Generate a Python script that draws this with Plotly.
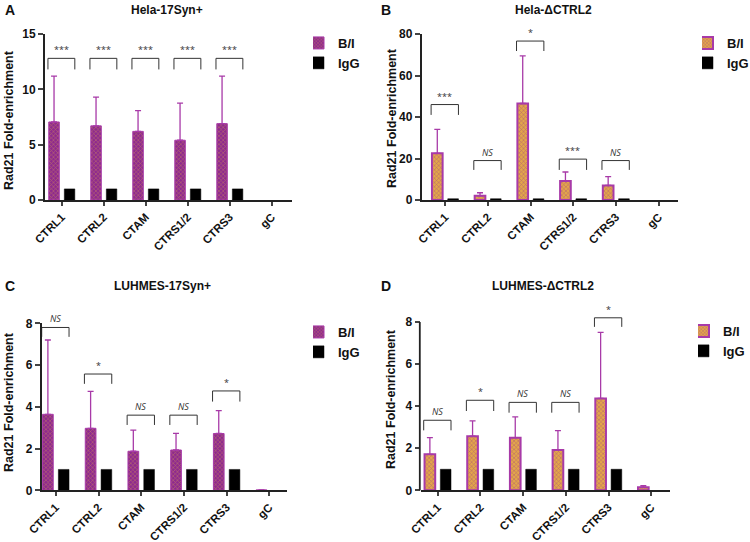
import plotly.graph_objects as go

# ---------------- data ----------------
categories = ["CTRL1", "CTRL2", "CTAM", "CTRS1/2", "CTRS3", "gC"]

A_title = "Hela-17Syn+"
A_bi = [7.05, 6.7, 6.2, 5.4, 6.9, None]
A_bi_sd = [4.15, 2.6, 1.87, 3.35, 4.3, None]
A_igg = [1, 1, 1, 1, 1, None]
A_sig = ["***", "***", "***", "***", "***", None]
A_sig_top = [12.8, 12.8, 12.8, 12.8, 12.8, None]
A_sig_leg = [11.8, 11.8, 11.8, 11.8, 11.8, None]
A_yticks = [0, 5, 10, 15]

B_title = "Hela-ΔCTRL2"
B_bi = [22.5, 2.0, 46.5, 9.2, 7.0, None]
B_bi_sd = [11.5, 1.5, 23.0, 4.3, 4.3, None]
B_igg = [0.6, 0.6, 0.6, 0.6, 0.6, None]
B_sig = ["***", "NS", "*", "***", "NS", None]
B_sig_top = [46, 19, 76.6, 19.7, 19, None]
B_sig_leg = [41, 14.5, 71.8, 14.5, 14.5, None]
B_yticks = [0, 20, 40, 60, 80]

C_title = "LUHMES-17Syn+"
C_bi = [3.64, 2.97, 1.87, 1.93, 2.72, 0.02]
C_bi_sd = [3.56, 1.77, 1.01, 0.8, 1.1, 0]
C_igg = [1, 1, 1, 1, 1, None]
C_sig = ["NS", "*", "NS", "NS", "*", None]
C_sig_top = [7.8, 5.57, 3.6, 3.6, 4.76, None]
C_sig_leg = [7.35, 5.1, 3.13, 3.13, 4.25, None]
C_yticks = [0, 2, 4, 6, 8]

D_title = "LUHMES-ΔCTRL2"
D_bi = [1.71, 2.57, 2.5, 1.92, 4.37, 0.15]
D_bi_sd = [0.79, 0.73, 0.99, 0.92, 3.14, 0.07]
D_igg = [1, 1, 1, 1, 1, None]
D_sig = ["NS", "*", "NS", "NS", "*", None]
D_sig_top = [3.33, 4.28, 4.18, 4.18, 8.2, None]
D_sig_leg = [2.85, 3.77, 3.69, 3.69, 7.77, None]
D_yticks = [0, 2, 4, 6, 8]

FONT = "Liberation Sans, Arial, sans-serif"
PURPLE = "#8E2A8E"
MAGENTA = "#A83AA8"
ORANGE = "#E3A64A"

panels = [
    dict(letter="A", title=A_title, bi=A_bi, sd=A_bi_sd, igg=A_igg, sig=A_sig, top=A_sig_top, leg=A_sig_leg,
         yticks=A_yticks, yrange=[0, 15], xrange=[-0.40, 5.48],
         xdom=[45 / 750, 292 / 750], ydom=[1 - 200 / 542, 1 - 34 / 542],
         bg=PURPLE, fg=ORANGE, lw=1, legpos=(313, 28)),
    dict(letter="B", title=B_title, bi=B_bi, sd=B_bi_sd, igg=B_igg, sig=B_sig, top=B_sig_top, leg=B_sig_leg,
         yticks=B_yticks, yrange=[0, 80], xrange=[-0.55, 5.45],
         xdom=[421.7 / 750, 678 / 750], ydom=[1 - 200 / 542, 1 - 34 / 542],
         bg=ORANGE, fg=PURPLE, lw=2, legpos=(702, 28)),
    dict(letter="C", title=C_title, bi=C_bi, sd=C_bi_sd, igg=C_igg, sig=C_sig, top=C_sig_top, leg=C_sig_leg,
         yticks=C_yticks, yrange=[0, 8], xrange=[-0.33, 5.42],
         xdom=[41.7 / 750, 287.3 / 750], ydom=[1 - 490.3 / 542, 1 - 323.3 / 542],
         bg=PURPLE, fg=ORANGE, lw=1, legpos=(313, 317)),
    dict(letter="D", title=D_title, bi=D_bi, sd=D_bi_sd, igg=D_igg, sig=D_sig, top=D_sig_top, leg=D_sig_leg,
         yticks=D_yticks, yrange=[0, 8.6], xrange=[-0.40, 5.44],
         xdom=[420.7 / 750, 670 / 750], ydom=[1 - 490.3 / 542, 1 - 309.4 / 542],
         bg=ORANGE, fg=PURPLE, lw=2, legpos=(698, 316)),
]

fig = go.Figure()
annotations = []
shapes = []
layout = {}
title_pos = {"A": (167, 10), "B": (553, 10), "C": (162, 286), "D": (543, 286)}
letter_pos = {"A": (3, 10), "B": (379, 10), "C": (3, 286), "D": (379, 286)}
ytitle_pos = {"A": (9, 120), "B": (392, 118), "C": (9, 402), "D": (391, 399)}

xs = list(range(len(categories)))
for k, p in enumerate(panels):
    n = "" if k == 0 else str(k + 1)
    xa, ya = "x" + n, "y" + n
    legname = "legend" + n
    fig.add_trace(go.Bar(
        x=xs, y=p["bi"], name="B/I", xaxis=xa, yaxis=ya, legend=legname,
        offset=-0.31, width=0.25,
        marker=dict(color=p["bg"], line=dict(color=MAGENTA, width=p["lw"]),
                    pattern=dict(shape="x", fgcolor=p["fg"], bgcolor=p["bg"], size=3, solidity=0.35)),
        error_y=dict(type="data", array=p["sd"], arrayminus=[0] * 6, symmetric=False,
                     color=MAGENTA, thickness=1.3, width=3),
        hoverinfo="skip",
    ))
    fig.add_trace(go.Bar(
        x=xs, y=p["igg"], name="IgG", xaxis=xa, yaxis=ya, legend=legname,
        offset=0.06, width=0.25,
        marker=dict(color="#000000", line=dict(color="#000000", width=0.5)),
        hoverinfo="skip",
    ))
    # significance brackets
    bx, by = [], []
    for i, s in enumerate(p["sig"]):
        if s is None:
            continue
        bx += [i - 0.33, i - 0.33, i + 0.31, i + 0.31, None]
        by += [p["leg"][i], p["top"][i], p["top"][i], p["leg"][i], None]
        annotations.append(dict(
            x=i - 0.01, y=p["top"][i], xref=xa, yref=ya, text=s, showarrow=False,
            xanchor="center", yanchor="bottom", yshift=0,
            font=dict(family="Open Sans, sans-serif", size=9, color="#333333",
                      style="italic" if s == "NS" else "normal")))
    fig.add_trace(go.Scatter(x=bx, y=by, xaxis=xa, yaxis=ya, mode="lines",
                             line=dict(color="#333333", width=1), showlegend=False,
                             hoverinfo="skip"))
    layout["xaxis" + n] = dict(
        domain=p["xdom"], anchor=ya, range=p["xrange"], tickmode="array", tickvals=xs,
        ticktext=categories, tickangle=-45, ticks="outside", ticklen=4, tickwidth=1.5,
        showline=True, linewidth=1.8, linecolor="#222222", showgrid=False, zeroline=False,
        tickfont=dict(family=FONT, size=11.5, color="#111111", weight="bold"), fixedrange=True)
    ymax_line = p["yticks"][-1]
    layout["yaxis" + n] = dict(
        domain=p["ydom"], anchor=xa, range=p["yrange"], tickmode="array", tickvals=p["yticks"],
        ticks="outside", ticklen=5, tickwidth=1.5, showline=(k != 3), linewidth=1.8,
        linecolor="#222222", showgrid=False, zeroline=False,
        tickfont=dict(family=FONT, size=12, color="#111111", weight="bold"), fixedrange=True)
    if k == 3:
        y0 = p["ydom"][0]
        y1 = y0 + (p["ydom"][1] - y0) * ymax_line / p["yrange"][1]
        shapes.append(dict(type="line", xref="paper", yref="paper", x0=p["xdom"][0] - 0.9 / 750,
                           x1=p["xdom"][0] - 0.9 / 750, y0=y0, y1=y1,
                           line=dict(color="#222222", width=1.8)))
    lx, ly = p["legpos"]
    layout[legname] = dict(x=lx / 750, y=1 - ly / 542, xanchor="left", yanchor="top",
                           bgcolor="rgba(0,0,0,0)", tracegroupgap=0, indentation=-15,
                           font=dict(family=FONT, size=13, color="#111111", weight="bold"))
    tx, ty = title_pos[p["letter"]]
    annotations.append(dict(x=tx / 750, y=1 - ty / 542, xref="paper", yref="paper",
                            xanchor="center", yanchor="middle",
                            text="<b>" + p["title"] + "</b>", showarrow=False,
                            font=dict(family=FONT, size=12, color="#111111")))
    lx2, ly2 = letter_pos[p["letter"]]
    annotations.append(dict(x=lx2 / 750, y=1 - ly2 / 542, xref="paper", yref="paper",
                            xanchor="left", yanchor="middle",
                            text="<b>" + p["letter"] + "</b>", showarrow=False,
                            font=dict(family=FONT, size=14, color="#111111")))
    yx, yy = ytitle_pos[p["letter"]]
    annotations.append(dict(x=yx / 750, y=1 - yy / 542, xref="paper", yref="paper",
                            xanchor="center", yanchor="middle",
                            text="<b>Rad21 Fold-enrichment</b>", textangle=-90, showarrow=False,
                            font=dict(family=FONT, size=12.5, color="#111111")))

fig.update_layout(
    width=750, height=542, margin=dict(l=0, r=0, t=0, b=0, autoexpand=False),
    paper_bgcolor="white", plot_bgcolor="white", barmode="overlay",
    annotations=annotations, shapes=shapes, **layout,
)
fig.write_html("out.html", config={"displayModeBar": False},
               post_script="document.body.style.margin='0';")
